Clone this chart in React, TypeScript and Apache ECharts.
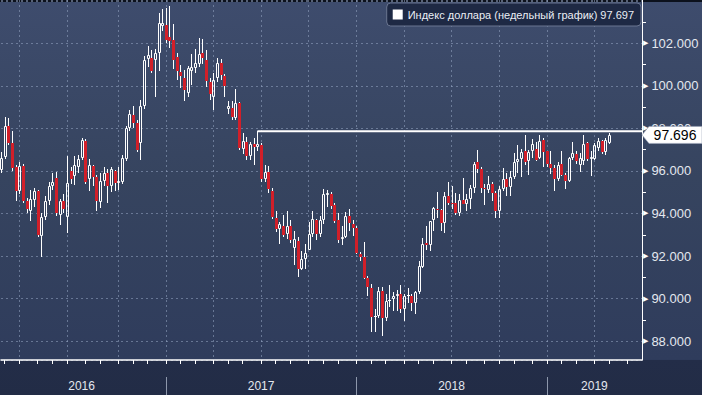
import React, { useEffect, useRef } from 'react';
import * as echarts from 'echarts';

// ---- texts ----
const seriesName = 'Индекс доллара (недельный график)';
const legendValue = '97.697';
const lastPriceLabel = '97.696';
const lastPrice = 97.696;
const trendStartIndex = 70;
const trendLevel = 97.87;

// weekly bars, first bar's week ends on this Friday; axis keeps room for a few empty weeks
const firstWeekEnding = [2016, 1, 19];
const axisWeeks = 176;

// ---- weekly OHLC ----
const opens = [
  96.05, 96.65, 98.1, 97.3, 96.2, 95.05, 96.25, 94.6, 94.1, 94.65,
  95.05, 92.95, 93.85, 94.6, 95.3, 95.65, 93.95, 94.6, 93.85, 96.0,
  95.75, 96.2, 96.6, 97.4, 95.6, 96.25, 95.7, 94.55, 95.55, 95.9,
  95.3, 96.0, 95.45, 95.5, 96.55, 98.0, 98.65, 98.25, 97.3, 99.05,
  101.25, 101.3, 101.2, 101.55, 102.8, 102.85, 102.3, 102.15, 101.35, 100.65,
  100.35, 99.65, 100.7, 100.85, 101.05, 101.55, 101.2, 100.2, 99.5, 100.35,
  101.1, 100.45, 98.9, 98.95, 98.5, 99.2, 97.05, 97.35, 96.7, 97.25,
  97.15, 97.2, 95.6, 95.95, 95.05, 93.8, 93.25, 93.4, 93.05, 93.4,
  92.4, 92.7, 91.4, 91.85, 92.3, 93.05, 93.7, 93.05, 93.7, 94.85,
  94.9, 94.4, 93.7, 92.8, 92.9, 93.9, 93.5, 93.3, 92.1, 91.95,
  90.95, 90.5, 89.15, 89.2, 90.35, 89.1, 89.9, 90.0, 90.1, 90.2,
  89.5, 90.1, 90.1, 89.8, 90.3, 91.5, 92.6, 92.5, 93.7, 94.2,
  94.15, 93.55, 94.8, 94.5, 94.5, 94.0, 94.65, 94.45, 94.7, 95.2,
  96.4, 96.1, 95.2, 95.1, 95.4, 94.95, 94.1, 95.15, 95.6, 95.25,
  95.7, 96.4, 96.55, 96.95, 96.45, 96.95, 97.05, 96.6, 97.45, 96.95,
  96.35, 96.15, 95.6, 96.35, 95.8, 95.55, 96.6, 96.8, 96.3, 96.45,
  97.3, 96.55, 96.55, 97.1, 97.4, 96.9, 97.3,
];
const highs = [
  96.9, 98.55, 98.5, 97.9, 96.3, 96.4, 96.35, 94.75, 95.1, 95.2,
  95.1, 94.0, 94.8, 95.5, 95.9, 95.95, 94.7, 94.9, 96.7, 96.2,
  96.7, 96.75, 97.55, 97.5, 96.55, 96.3, 95.8, 95.9, 96.2, 96.1,
  96.2, 96.05, 96.2, 96.75, 98.1, 98.85, 99.05, 98.4, 99.35, 101.4,
  101.9, 101.7, 101.75, 103.45, 103.6, 103.65, 103.75, 102.9, 101.55, 101.0,
  100.75, 100.95, 101.5, 101.75, 102.25, 102.2, 101.7, 100.35, 100.6, 101.3,
  101.25, 100.55, 99.3, 99.3, 99.85, 99.25, 97.8, 97.6, 97.35, 97.55,
  97.87, 97.3, 96.3, 96.25, 95.2, 94.1, 93.6, 93.95, 94.1, 93.7,
  93.2, 92.9, 92.25, 92.55, 93.6, 94.1, 93.75, 93.9, 95.15, 95.1,
  95.0, 94.5, 94.0, 93.4, 94.05, 94.2, 93.7, 93.4, 92.2, 92.65,
  91.05, 90.7, 89.5, 90.55, 90.55, 90.2, 90.65, 90.3, 90.4, 90.65,
  90.2, 90.5, 90.2, 90.35, 91.75, 92.85, 93.4, 93.65, 94.3, 95.0,
  94.2, 95.0, 95.5, 95.3, 94.95, 94.9, 95.65, 94.9, 95.35, 96.4,
  96.98, 96.2, 95.4, 95.75, 95.5, 95.05, 95.3, 96.15, 95.9, 96.0,
  96.85, 97.2, 97.05, 97.7, 97.0, 97.5, 97.35, 97.7, 97.55, 96.95,
  96.95, 96.3, 96.4, 96.95, 95.9, 96.65, 97.35, 96.95, 96.85, 97.7,
  97.35, 96.95, 97.3, 97.55, 97.45, 97.55, 97.8,
];
const lows = [
  95.9, 96.55, 97.2, 96.0, 94.6, 94.9, 94.5, 94.0, 93.65, 94.3,
  92.9, 91.95, 93.7, 94.4, 95.1, 93.9, 93.45, 94.0, 93.1, 95.4,
  95.35, 95.9, 96.5, 95.4, 95.05, 95.3, 94.1, 94.25, 95.3, 94.5,
  95.0, 95.05, 95.1, 95.4, 96.45, 97.9, 98.0, 96.9, 96.5, 98.9,
  100.9, 100.6, 99.5, 100.7, 102.6, 102.0, 101.8, 100.8, 100.3, 99.9,
  99.3, 99.5, 100.05, 100.6, 100.9, 101.05, 99.95, 99.35, 98.85, 100.2,
  100.3, 99.5, 98.7, 98.4, 98.4, 97.0, 96.8, 96.5, 96.5, 96.3,
  96.95, 95.5, 95.5, 94.95, 93.75, 93.15, 92.55, 92.9, 92.8, 92.6,
  91.6, 91.0, 91.35, 91.4, 92.3, 92.9, 92.75, 92.9, 93.5, 94.3,
  94.2, 93.55, 92.6, 92.5, 92.85, 93.2, 92.95, 92.1, 91.75, 90.9,
  90.1, 88.45, 88.45, 89.1, 88.25, 88.95, 89.6, 89.4, 89.4, 89.3,
  88.95, 89.8, 89.4, 89.25, 90.2, 91.45, 92.3, 92.25, 93.2, 93.8,
  93.2, 93.1, 94.4, 94.2, 93.95, 93.9, 94.45, 94.1, 94.2, 94.95,
  95.9, 94.95, 94.4, 94.95, 94.6, 93.8, 93.8, 95.05, 94.8, 94.8,
  95.6, 95.9, 95.7, 96.3, 95.8, 96.6, 96.45, 96.55, 96.2, 96.2,
  95.85, 95.05, 95.55, 95.75, 95.15, 95.5, 96.5, 96.35, 95.95, 96.3,
  96.45, 95.75, 96.5, 96.95, 96.8, 96.75, 97.25,
];
const closes = [
  96.6, 98.1, 97.3, 96.15, 95.05, 96.25, 94.6, 94.2, 94.7, 95.05,
  93.0, 93.85, 94.6, 95.3, 95.5, 94.0, 94.6, 94.2, 95.45, 95.6,
  96.3, 96.55, 97.45, 95.5, 96.3, 95.7, 94.6, 95.55, 95.9, 95.3,
  96.1, 95.45, 95.55, 96.6, 98.0, 98.7, 98.25, 97.0, 99.05, 101.2,
  101.45, 100.7, 101.55, 102.95, 102.95, 102.15, 102.1, 101.2, 100.7, 100.45,
  99.8, 100.85, 100.9, 101.1, 101.5, 101.3, 100.25, 99.6, 100.3, 101.1,
  100.5, 100.0, 99.05, 98.55, 99.2, 97.1, 97.4, 96.7, 97.25, 97.15,
  97.25, 95.6, 95.95, 95.15, 93.85, 93.25, 93.5, 93.0, 93.4, 92.75,
  92.8, 91.4, 91.85, 92.15, 93.05, 93.75, 93.05, 93.7, 94.9, 94.95,
  94.35, 93.65, 92.75, 92.9, 93.9, 93.55, 93.3, 92.15, 91.95, 90.95,
  90.55, 89.15, 89.2, 90.35, 89.1, 89.9, 89.95, 90.1, 90.2, 89.5,
  90.1, 90.15, 89.8, 90.3, 91.55, 92.55, 92.5, 93.65, 94.25, 94.15,
  93.55, 94.8, 94.5, 94.45, 94.0, 94.65, 94.45, 94.7, 95.2, 96.35,
  96.1, 95.2, 95.15, 95.4, 94.95, 94.1, 95.15, 95.6, 95.25, 95.7,
  96.4, 96.55, 96.9, 96.4, 96.9, 97.25, 96.5, 97.4, 96.9, 96.35,
  96.15, 95.6, 96.3, 95.8, 95.55, 96.6, 96.85, 96.45, 96.6, 97.25,
  96.55, 96.65, 97.2, 97.4, 96.9, 97.45, 97.7,
];

const FONT = "'Liberation Sans', Arial, sans-serif";
const UP = '#ffffff';
const DOWN = '#d11f29';
const GRID_COLOR = 'rgba(150,165,195,0.55)';

export default function App() {
  const ref = useRef<HTMLDivElement>(null);

  useEffect(() => {
    const el = ref.current;
    if (!el) return;
    const chart = echarts.init(el, null, { renderer: 'svg' });

    // category axis: Friday week-ending dates
    const weekEnding: string[] = [];
    const start = Date.UTC(firstWeekEnding[0], firstWeekEnding[1], firstWeekEnding[2]);
    for (let i = 0; i < axisWeeks; i++) {
      weekEnding.push(new Date(start + i * 7 * 86400000).toISOString().slice(0, 10));
    }
    const ym = weekEnding.map((s) => [Number(s.slice(0, 4)), Number(s.slice(5, 7))]);
    const last = axisWeeks - 1;
    const monthEnd = ym.map((d, i) => i < last && ym[i + 1][1] !== d[1]);
    const quarterEnd = monthEnd.map((m, i) => m && [1, 4, 7, 10].includes(ym[i + 1][1]));
    const yearEnd = ym.map((d, i) => i < last && ym[i + 1][0] !== d[0]);
    const bounds = [0];
    yearEnd.forEach((b, i) => { if (b) bounds.push(i); });
    bounds.push(last);
    const yearMid = new Map<number, string>();
    for (let k = 0; k < bounds.length - 1; k++) {
      yearMid.set(Math.floor((bounds[k] + bounds[k + 1]) / 2), String(ym[bounds[k + 1]][0]));
    }

    const candleData = opens.map((o, i) => [i, o, closes[i], lows[i], highs[i]]);

    const renderItem = (_params: any, api: any) => {
      const idx = api.value(0);
      const o = api.value(1);
      const c = api.value(2);
      const l = api.value(3);
      const h = api.value(4);
      const pO = api.coord([idx, o]);
      const cx = Math.round(pO[0]);
      const yO = pO[1];
      const yC = api.coord([idx, c])[1];
      const yL = Math.round(api.coord([idx, l])[1]);
      const yH = Math.round(api.coord([idx, h])[1]);
      const top = Math.round(Math.min(yO, yC));
      const bot = Math.round(Math.max(yO, yC));
      const up = c >= o;
      const children: any[] = [];
      if (yH < top) {
        children.push({ type: 'line', shape: { x1: cx + 0.5, y1: yH, x2: cx + 0.5, y2: top }, style: { stroke: '#ffffff', lineWidth: 1 } });
      }
      if (yL > bot) {
        children.push({ type: 'line', shape: { x1: cx + 0.5, y1: bot, x2: cx + 0.5, y2: yL }, style: { stroke: '#ffffff', lineWidth: 1 } });
      }
      if (up) {
        if (bot - top >= 2) {
          children.push({ type: 'rect', shape: { x: cx - 0.5, y: top + 0.5, width: 2, height: bot - top - 1 }, style: { fill: 'none', stroke: UP, lineWidth: 1 } });
        } else {
          children.push({ type: 'rect', shape: { x: cx - 1, y: top, width: 3, height: Math.max(bot - top, 1) }, style: { fill: UP } });
        }
      } else {
        children.push({ type: 'rect', shape: { x: cx - 1, y: top, width: 3, height: Math.max(bot - top, 1) }, style: { fill: DOWN } });
      }
      return { type: 'group', children };
    };

    chart.setOption({
      animation: false,
      backgroundColor: 'transparent',
      grid: { left: 1, right: 60, top: 0, bottom: 35, containLabel: false },
      legend: {
        show: true,
        right: 61,
        top: 3,
        selectedMode: false,
        data: [{ name: seriesName, icon: 'rect', itemStyle: { color: '#ffffff', borderWidth: 0 } }],
        formatter: (n: string) => n + ' ' + legendValue,
        itemWidth: 10,
        itemHeight: 10,
        padding: [6, 7, 6, 6],
        backgroundColor: '#1e2944',
        borderColor: '#6b7691',
        borderWidth: 1,
        borderRadius: 4,
        textStyle: { color: '#eaeef5', fontSize: 11, fontFamily: FONT },
      },
      xAxis: [
        {
          type: 'category',
          data: weekEnding,
          boundaryGap: false,
          position: 'bottom',
          axisLine: { show: true, onZero: false, lineStyle: { color: '#ffffff', width: 1.5 } },
          axisTick: { show: true, interval: (i: number) => monthEnd[i], length: 4, lineStyle: { color: '#ffffff' } },
          axisLabel: { show: false },
          splitLine: { show: true, interval: (i: number) => quarterEnd[i], lineStyle: { color: GRID_COLOR, type: [2, 3], width: 1 } },
        },
        {
          type: 'category',
          data: weekEnding,
          boundaryGap: false,
          position: 'bottom',
          offset: 17,
          axisLine: { show: false, onZero: false },
          axisTick: { show: true, interval: (i: number) => yearEnd[i], length: 18, lineStyle: { color: '#8d97ab' } },
          axisLabel: {
            show: true,
            interval: (i: number) => yearMid.has(i),
            formatter: (_v: string, i: number) => yearMid.get(i) ?? '',
            color: '#e4e8ef',
            fontSize: 12,
            fontFamily: FONT,
            margin: 3,
          },
          splitLine: { show: false },
        },
      ],
      yAxis: {
        type: 'value',
        position: 'right',
        min: 87.11,
        max: 104.04,
        splitNumber: 8,
        minInterval: 2,
        maxInterval: 2,
        axisLine: { show: true, lineStyle: { color: '#ffffff', width: 1 } },
        axisTick: { show: false },
        minorTick: { show: true, splitNumber: 2, length: 4, lineStyle: { color: '#ffffff' } },
        axisLabel: {
          margin: 1,
          formatter: (v: number) =>
            Math.abs(v / 2 - Math.round(v / 2)) < 1e-6 && v < 103 ? `{t|▶}{v|${v.toFixed(3)}}` : '',
          rich: {
            t: { fontSize: 7, color: '#ffffff', fontFamily: 'DejaVu Sans', padding: [0, 3, 0, 0] },
            v: { fontSize: 13, color: '#e4e8ef', fontFamily: FONT },
          },
        },
        splitLine: { show: true, lineStyle: { color: GRID_COLOR, type: [2, 3], width: 1 } },
      },
      series: [
        {
          type: 'custom',
          name: seriesName,
          data: candleData,
          encode: { x: 0, y: [1, 2, 3, 4] },
          renderItem,
          z: 2,
        },
        {
          type: 'line',
          name: 'trend',
          data: [[trendStartIndex, trendLevel], [last, trendLevel]],
          symbol: 'none',
          silent: true,
          lineStyle: { color: '#ffffff', width: 2 },
          z: 3,
          markPoint: {
            silent: true,
            symbol: 'path://M0,8.5L7,0L60,0L60,17L7,17Z',
            symbolSize: [60, 17],
            symbolOffset: [30, 0],
            symbolKeepAspect: false,
            itemStyle: { color: '#ffffff', borderColor: '#9aa4b8', borderWidth: 0.5 },
            label: { show: true, formatter: lastPriceLabel, color: '#000000', fontSize: 14, fontFamily: FONT, offset: [3, 0] },
            data: [{ coord: [last, lastPrice] }],
          },
        },
      ],
    });

    return () => chart.dispose();
  }, []);

  return (
    <div
      style={{
        position: 'fixed',
        left: 0,
        top: 0,
        width: 702,
        height: 395,
        background:
          'linear-gradient(to bottom, #3e4c6d 0%, #36445f 45%, #2f3c5c 91%, #232d48 91.2%, #222c46 100%)',
        boxShadow: 'inset 0 2px 0 #0c111c',
      }}
    >
      <div ref={ref} style={{ width: 702, height: 395 }} />
    </div>
  );
}
